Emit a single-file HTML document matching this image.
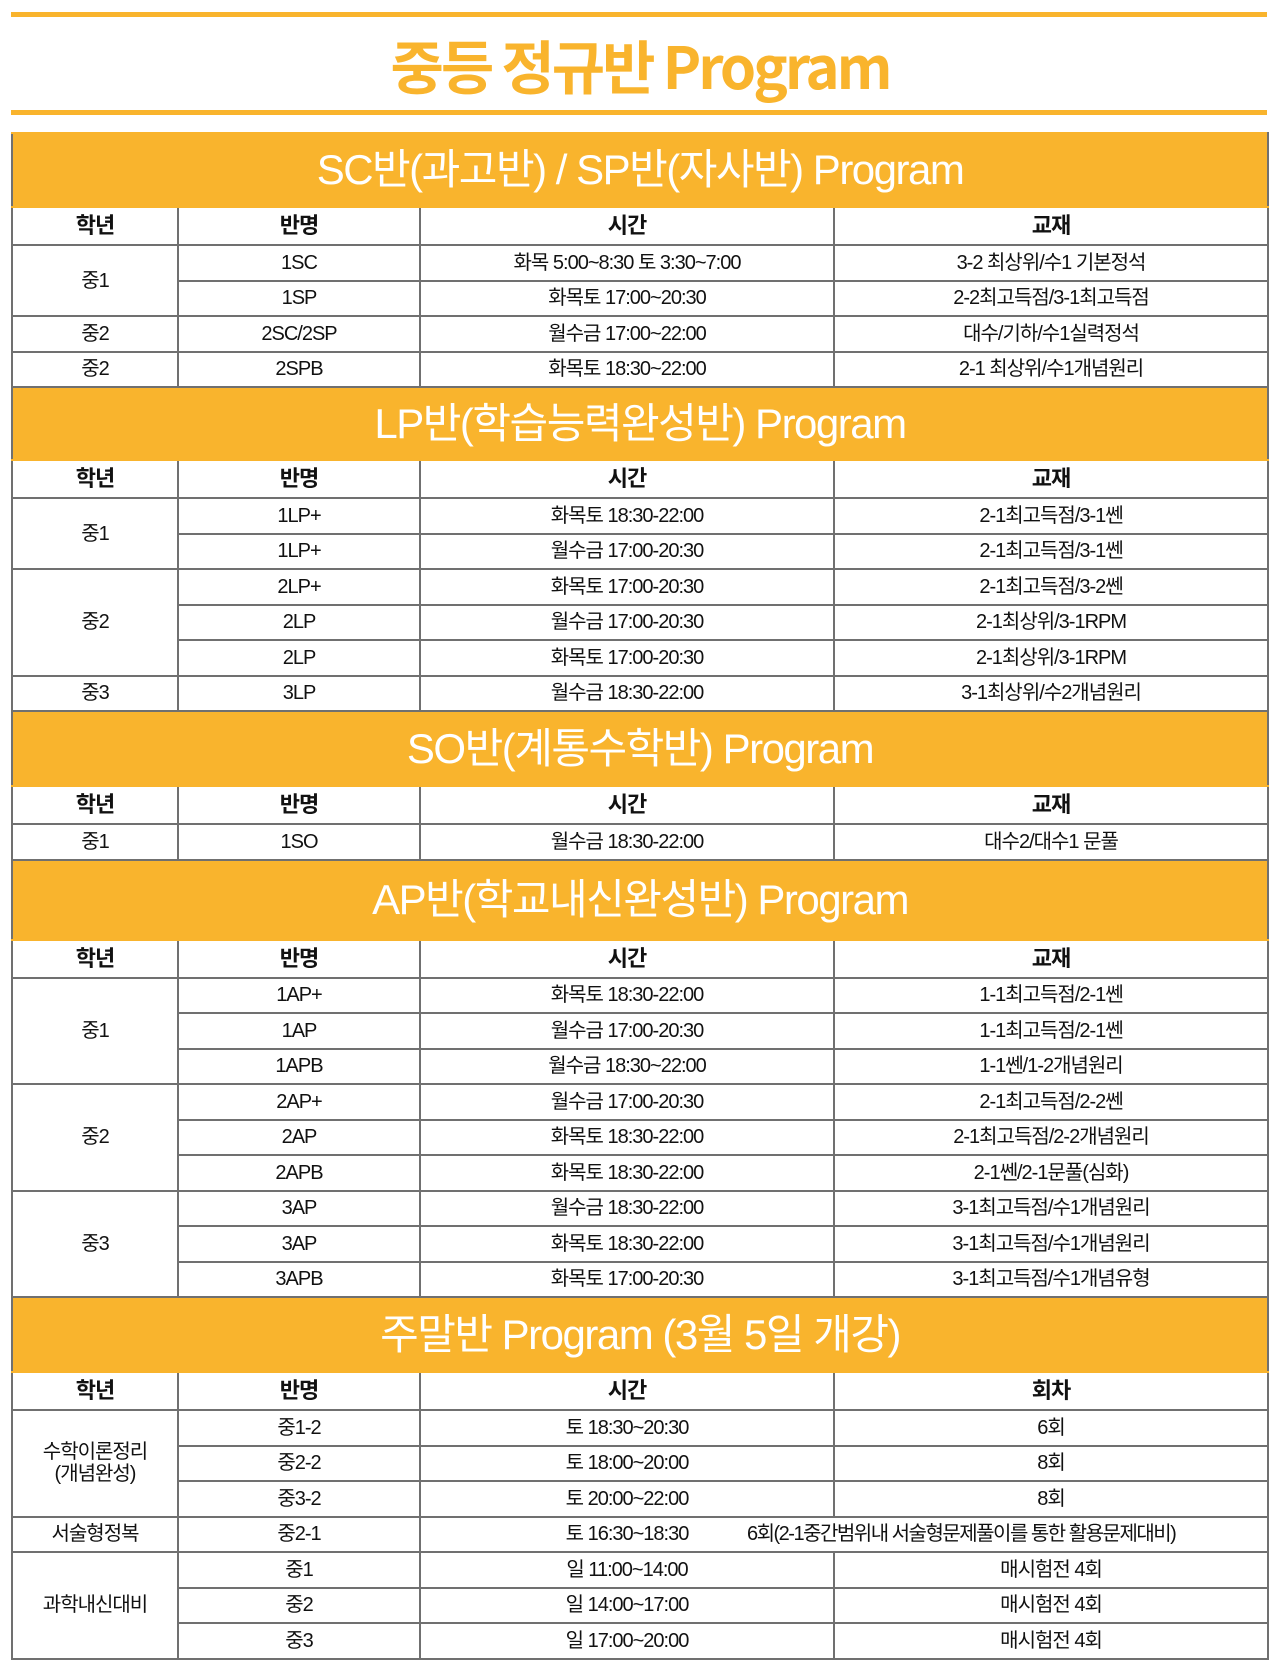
<!DOCTYPE html>
<html><head><meta charset="utf-8"><style>
body{margin:0;width:1280px;height:1668px;background:#fff;font-family:"Liberation Sans","Noto Sans CJK KR",sans-serif;position:relative;overflow:hidden}
.line{position:absolute;left:11px;width:1256px;height:5px;background:#f9b42d}
.title{position:absolute;top:22px;left:0;width:1280px;text-align:center;font-size:58px;font-weight:bold;color:#f9b42d;letter-spacing:-3px;font-family:"Noto Sans CJK KR",sans-serif}
table{position:absolute;left:11px;top:132px;width:1256px;border-collapse:collapse;table-layout:fixed}
td{border:2px solid #707070;text-align:center;vertical-align:middle;font-size:20px;line-height:22px;color:#111;padding:0;letter-spacing:-1px;white-space:nowrap;overflow:visible}
tr{height:35.5px}
tr.h td{font-weight:bold;font-size:22px;height:36px}
tr.b td{background:#f9b42d;color:#fff;font-size:42px;line-height:46px;border-color:#f9b42d #707070;letter-spacing:-1.5px}
.long{position:relative;left:-88px}
</style></head><body>
<div class="line" style="top:12px"></div>
<div class="title">중등 정규반 Program</div>
<div class="line" style="top:110px"></div>
<table>
<colgroup><col style="width:166px"><col style="width:242px"><col style="width:414px"><col style="width:434px"></colgroup>
<tr class="b" style="height:74px"><td colspan="4">SC반(과고반) / SP반(자사반) Program</td></tr>
<tr class="h"><td>학년</td><td>반명</td><td>시간</td><td>교재</td></tr>
<tr><td rowspan="2">중1</td><td>1SC</td><td>화목 5:00~8:30 토 3:30~7:00</td><td>3-2 최상위/수1 기본정석</td></tr>
<tr><td>1SP</td><td>화목토 17:00~20:30</td><td>2-2최고득점/3-1최고득점</td></tr>
<tr><td>중2</td><td>2SC/2SP</td><td>월수금 17:00~22:00</td><td>대수/기하/수1실력정석</td></tr>
<tr><td>중2</td><td>2SPB</td><td>화목토 18:30~22:00</td><td>2-1 최상위/수1개념원리</td></tr>
<tr class="b" style="height:73px"><td colspan="4">LP반(학습능력완성반) Program</td></tr>
<tr class="h"><td>학년</td><td>반명</td><td>시간</td><td>교재</td></tr>
<tr><td rowspan="2">중1</td><td>1LP+</td><td>화목토 18:30-22:00</td><td>2-1최고득점/3-1쎈</td></tr>
<tr><td>1LP+</td><td>월수금 17:00-20:30</td><td>2-1최고득점/3-1쎈</td></tr>
<tr><td rowspan="3">중2</td><td>2LP+</td><td>화목토 17:00-20:30</td><td>2-1최고득점/3-2쎈</td></tr>
<tr><td>2LP</td><td>월수금 17:00-20:30</td><td>2-1최상위/3-1RPM</td></tr>
<tr><td>2LP</td><td>화목토 17:00-20:30</td><td>2-1최상위/3-1RPM</td></tr>
<tr><td>중3</td><td>3LP</td><td>월수금 18:30-22:00</td><td>3-1최상위/수2개념원리</td></tr>
<tr class="b" style="height:75px"><td colspan="4">SO반(계통수학반) Program</td></tr>
<tr class="h"><td>학년</td><td>반명</td><td>시간</td><td>교재</td></tr>
<tr><td>중1</td><td>1SO</td><td>월수금 18:30-22:00</td><td>대수2/대수1 문풀</td></tr>
<tr class="b" style="height:80px"><td colspan="4">AP반(학교내신완성반) Program</td></tr>
<tr class="h"><td>학년</td><td>반명</td><td>시간</td><td>교재</td></tr>
<tr><td rowspan="3">중1</td><td>1AP+</td><td>화목토 18:30-22:00</td><td>1-1최고득점/2-1쎈</td></tr>
<tr><td>1AP</td><td>월수금 17:00-20:30</td><td>1-1최고득점/2-1쎈</td></tr>
<tr><td>1APB</td><td>월수금 18:30~22:00</td><td>1-1쎈/1-2개념원리</td></tr>
<tr><td rowspan="3">중2</td><td>2AP+</td><td>월수금 17:00-20:30</td><td>2-1최고득점/2-2쎈</td></tr>
<tr><td>2AP</td><td>화목토 18:30-22:00</td><td>2-1최고득점/2-2개념원리</td></tr>
<tr><td>2APB</td><td>화목토 18:30-22:00</td><td>2-1쎈/2-1문풀(심화)</td></tr>
<tr><td rowspan="3">중3</td><td>3AP</td><td>월수금 18:30-22:00</td><td>3-1최고득점/수1개념원리</td></tr>
<tr><td>3AP</td><td>화목토 18:30-22:00</td><td>3-1최고득점/수1개념원리</td></tr>
<tr><td>3APB</td><td>화목토 17:00-20:30</td><td>3-1최고득점/수1개념유형</td></tr>
<tr class="b" style="height:75px"><td colspan="4">주말반 Program (3월 5일 개강)</td></tr>
<tr class="h"><td>학년</td><td>반명</td><td>시간</td><td>회차</td></tr>
<tr><td rowspan="3">수학이론정리<br>(개념완성)</td><td>중1-2</td><td>토 18:30~20:30</td><td>6회</td></tr>
<tr><td>중2-2</td><td>토 18:00~20:00</td><td>8회</td></tr>
<tr><td>중3-2</td><td>토 20:00~22:00</td><td>8회</td></tr>
<tr><td>서술형정복</td><td>중2-1</td><td style="border-right-color:#fff">토 16:30~18:30</td><td style="text-align:left;border-left-color:#fff"><span class="long" style="letter-spacing:-1.5px">6회(2-1중간범위내 서술형문제풀이를 통한 활용문제대비)</span></td></tr>
<tr><td rowspan="3">과학내신대비</td><td>중1</td><td>일 11:00~14:00</td><td>매시험전 4회</td></tr>
<tr><td>중2</td><td>일 14:00~17:00</td><td>매시험전 4회</td></tr>
<tr><td>중3</td><td>일 17:00~20:00</td><td>매시험전 4회</td></tr>
</table>
</body></html>
